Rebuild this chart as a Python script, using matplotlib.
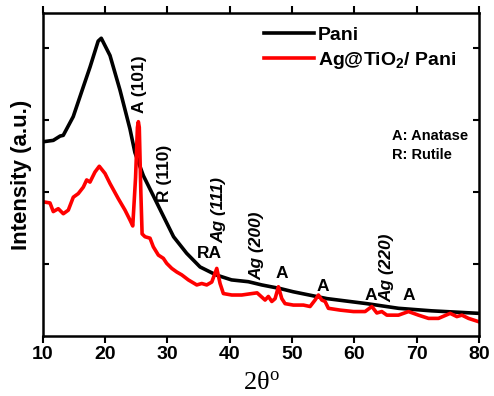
import matplotlib
matplotlib.use("Agg")
import matplotlib.pyplot as plt

plt.rcParams['font.family'] = ['Liberation Sans', 'DejaVu Sans']
plt.rcParams['font.weight'] = 'bold'

# XRD pattern (2theta in degrees, intensity in a.u.)
pani_x = [10, 11.7, 12.8, 13.3, 14.9, 16.5, 17.6, 18.9, 19.4, 20.8, 22.4, 24.0, 24.8,
          26.15, 27.75, 29.4, 31.0, 33.1, 35.25, 37.8, 40.3, 43.0, 45.15, 48.1, 50.2,
          55.6, 62.0, 67.1, 72.4, 80]
pani_y = [2.70, 2.72, 2.78, 2.79, 3.05, 3.46, 3.74, 4.10, 4.14, 3.90, 3.42, 2.88, 2.55,
          2.23, 1.95, 1.66, 1.38, 1.15, 0.96, 0.85, 0.78, 0.755, 0.71, 0.66, 0.615,
          0.52, 0.45, 0.385, 0.35, 0.315]

comp_x = [10.1, 11.17, 11.7, 12.5, 13.31, 14.11, 14.91, 15.71, 16.52, 17.06, 17.59,
          18.39, 19.08, 20.0, 20.8, 22.13, 23.21, 24.02, 24.45, 24.9, 25.2, 25.35, 25.5,
          25.75, 25.95, 26.42, 27.22, 27.75, 28.56, 29.36, 29.9, 30.71, 31.51, 32.31,
          33.37, 34.72, 35.52, 36.32, 37.13, 37.93, 38.46, 38.99, 40.34, 41.94, 43.55,
          44.4, 45.68, 46.21, 46.76, 47.29, 47.82, 48.36, 48.89, 50.22, 51.83, 52.9,
          53.7, 54.24, 54.78, 55.31, 55.84, 57.72, 59.86, 61.73, 62.81, 63.61, 64.41,
          65.22, 67.08, 68.69, 70.29, 71.9, 73.5, 75.38, 76.45, 77.26, 78.32, 79.92]
comp_y = [1.865, 1.85, 1.73, 1.77, 1.70, 1.75, 1.93, 1.98, 2.07, 2.17, 2.14,
          2.28, 2.36, 2.26, 2.12, 1.91, 1.75, 1.61, 1.53, 2.2, 2.9, 2.98, 2.9,
          2.0, 1.42, 1.38, 1.36, 1.24, 1.125, 1.08, 1.01, 0.94, 0.89, 0.85,
          0.78, 0.71, 0.73, 0.71, 0.75, 0.94, 0.73, 0.59, 0.57, 0.57, 0.59,
          0.60, 0.50, 0.55, 0.48, 0.52, 0.685, 0.52, 0.45, 0.43, 0.43, 0.41,
          0.50, 0.57, 0.50, 0.48, 0.385, 0.36, 0.34, 0.34, 0.41, 0.32, 0.34,
          0.29, 0.29, 0.34, 0.29, 0.245, 0.245, 0.315, 0.27, 0.29, 0.245, 0.20]

# peak labels: text, x, y
peak_text = ['A (101)', 'R (110)', 'Ag (111)', 'RA', 'Ag (200)', 'A', 'A', 'A', 'Ag (220)', 'A']
peak_x = [25.6, 29.6, 38.3, 36.7, 44.4, 48.4, 55.0, 62.7, 65.3, 68.8]
peak_y = [3.10, 1.86, 1.29, 1.15, 0.78, 0.875, 0.69, 0.57, 0.47, 0.56]

fig = plt.figure(figsize=(4.94, 3.96), dpi=100)
ax = fig.add_axes([0.0864, 0.1515, 0.8832, 0.8155])

ax.plot(pani_x, pani_y, color='black', lw=2.6, label='Pani')
ax.plot(comp_x, comp_y, color='red', lw=2.6, label='Ag@TiO$\\mathregular{_2}$/ Pani')

for t, x, y in zip(peak_text, peak_x, peak_y):
    if t in ('A', 'RA'):
        ax.text(x, y, t, ha='center', va='center', fontsize=12.5, fontweight='bold')
    else:
        style = 'italic' if t.startswith('Ag') else 'normal'
        ax.text(x, y, t, ha='center', va='bottom', rotation=90, fontsize=12.5,
                fontweight='bold', style=style)

ax.text(0.80, 0.59, 'A: Anatase\nR: Rutile', transform=ax.transAxes, fontsize=10.5,
        fontweight='bold', va='center', ha='left', linespacing=1.5)

ax.set_xlim(10, 80)
ax.set_ylim(0, 4.49)
ax.set_xticks(range(10, 81, 10))
ax.set_yticks([1, 2, 3, 4])
ax.set_yticklabels([])
ax.tick_params(axis='x', direction='out', length=5, width=1.5, labelsize=14, top=True, pad=2)
ax.tick_params(axis='y', direction='in', length=4, width=1.5, right=True)
for lbl in ax.get_xticklabels():
    lbl.set_fontweight('bold')
for s in ax.spines.values():
    s.set_linewidth(1.8)

ax.set_ylabel('Intensity (a.u.)', fontsize=16, fontweight='bold', labelpad=4)
ax.set_xlabel('2θ$\\mathregular{^o}$', fontsize=19, fontweight='normal',
              family='Liberation Serif', labelpad=7)

ax.legend(loc='upper left', bbox_to_anchor=(0.475, 1.0), frameon=False, fontsize=14,
          handlelength=2.6, handletextpad=0.2, labelspacing=0.3, borderaxespad=0.3)

fig.savefig('out.png', dpi=100)
